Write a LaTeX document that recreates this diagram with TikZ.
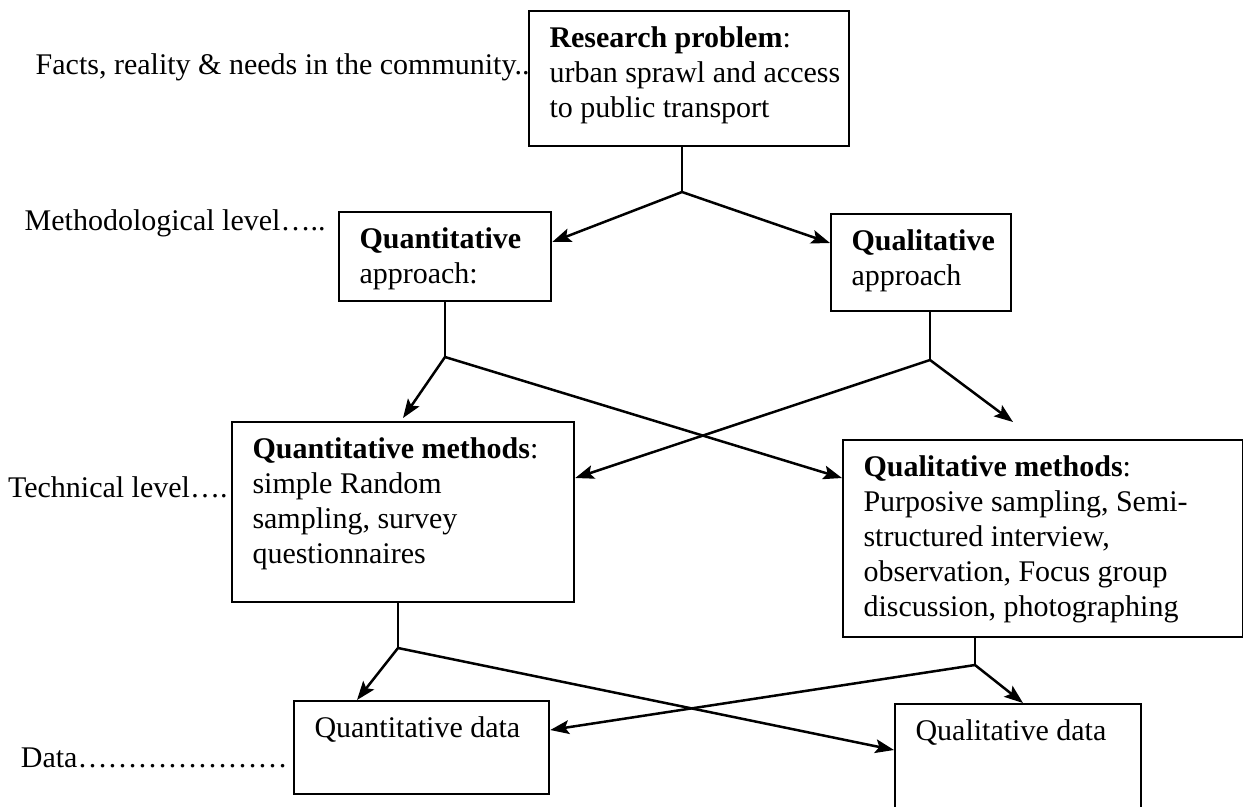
\documentclass[tikz,border=0pt]{standalone}
\usepackage{fontspec}
\setmainfont{Liberation Serif}
\usetikzlibrary{arrows.meta,calc,positioning}
\newcommand{\flowbox}[6]{%
  \node[stagebox,minimum width=#4*0.4pt,minimum height=#5*0.4pt] (#1) at (#2,#3) {};%
  \node[boxtext] (#1-txt) at ($(#1.north west)+(21,16)$) {#6};%
}

\begin{document}
\begin{tikzpicture}[x=0.4pt,y=-0.4pt,
  stagebox/.style={draw,line width=0.9pt,inner sep=0pt,anchor=north west},
  boxtext/.style={anchor=north west,inner sep=0pt,align=left,font=\fontsize{12}{14}\selectfont},
  levellabel/.style={anchor=base east,inner sep=0pt,font=\fontsize{12}{14}\selectfont},
  link/.style={line width=1pt},
  flowarrow/.style={line width=1pt,-{Stealth[length=7.5pt,width=5.5pt,inset=1.5pt]}}]
  \useasboundingbox (0,0) rectangle (1243,806);
  % boxes
  \flowbox{problem}{528}{10}{320}{135}{\textbf{Research problem}:\\urban sprawl and access\\to public transport}
  \flowbox{quantappr}{338}{211}{212}{89}{\textbf{Quantitative}\\approach:}
  \flowbox{qualappr}{830}{213}{180}{97}{\textbf{Qualitative}\\approach}
  \flowbox{quantmeth}{231}{421}{342}{180}{\textbf{Quantitative methods}:\\simple Random\\sampling, survey\\questionnaires}
  \flowbox{qualmeth}{842}{439}{400}{197}{\textbf{Qualitative methods}:\\Purposive sampling, Semi-\\structured interview,\\observation, Focus group\\discussion, photographing}
  \flowbox{quantdata}{293}{700}{255}{93}{Quantitative data}
  \flowbox{qualdata}{894}{703}{246}{115}{Qualitative data}
  % levels
  \node[levellabel] (lvl-facts) at ($(problem.north west)+(2,65)$) {Facts, reality \& needs in the community..};
  \node[levellabel] (lvl-method) at ($(quantappr.north west)+(-12,19)$) {Methodological level…..};
  \node[levellabel] (lvl-tech) at ($(quantmeth.north west)+(-3,76)$) {Technical level….};
  \node[levellabel] (lvl-data) at ($(quantdata.north west)+(-5,67)$) {Data…………………};
  % connectors
  \coordinate (j1) at (682,192);
  \coordinate (j2) at (445,357);
  \coordinate (j3) at (930,360);
  \coordinate (j4) at (398,648);
  \coordinate (j5) at (975,665);
  \coordinate (qualmeth-in) at ($(qualmeth.north west)+(171,-17)$);
  \draw[link] (j1 |- problem.south) -- (j1);
  \draw[flowarrow] (j1) -- ($(quantappr.north east)+(0,31)$);
  \draw[flowarrow] (j1) -- ($(qualappr.north west)+(0,30)$);
  \draw[link] (j2 |- quantappr.south) -- (j2);
  \draw[flowarrow] (j2) -- ($(quantmeth.north west)+(172,-3)$);
  \draw[flowarrow] (j2) -- ($(qualmeth.north west)+(0,39)$);
  \draw[link] (j3 |- qualappr.south) -- (j3);
  \draw[flowarrow] (j3) -- (qualmeth-in);
  \draw[flowarrow] (j3) -- ($(quantmeth.north east)+(0,57)$);
  \draw[link] (j4 |- quantmeth.south) -- (j4);
  \draw[flowarrow] (j4) -- ($(quantdata.north west)+(64,0)$);
  \draw[flowarrow] (j4) -- ($(qualdata.north west)+(0,47)$);
  \draw[link] (j5 |- qualmeth.south) -- (j5);
  \draw[flowarrow] (j5) -- ($(qualdata.north west)+(129,0)$);
  \draw[flowarrow] (j5) -- ($(quantdata.north east)+(0,30)$);
\end{tikzpicture}
\end{document}
